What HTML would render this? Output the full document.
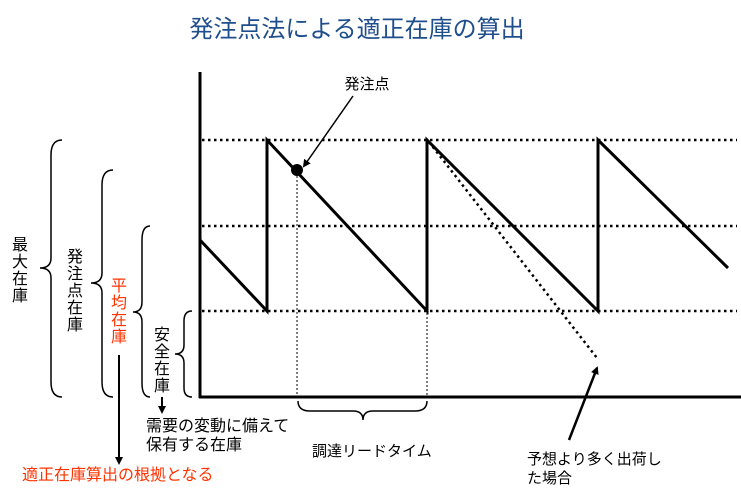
<!DOCTYPE html>
<html><head><meta charset="utf-8"><style>
html,body{margin:0;padding:0;background:#fff;}
svg{display:block;}
text{font-family:"Liberation Sans","Noto Sans CJK JP",sans-serif;}
</style></head><body>
<svg width="741" height="497" viewBox="0 0 741 497" xmlns="http://www.w3.org/2000/svg">
<defs>
<marker id="ah" markerWidth="8" markerHeight="8" refX="6" refY="4" orient="auto" markerUnits="userSpaceOnUse"><path d="M0,0 L8,4 L0,8 z" fill="#000"/></marker>
</defs>
<text x="357" y="37" font-size="24" fill="#1f4e8c" text-anchor="middle">発注点法による適正在庫の算出</text>
<line x1="200" y1="72" x2="200" y2="398" stroke="#000" stroke-width="3"/>
<line x1="199" y1="397" x2="741" y2="397" stroke="#000" stroke-width="3"/>
<g stroke="#000" stroke-width="2.5" stroke-dasharray="2.5,3.5">
<line x1="202" y1="140" x2="737" y2="140"/>
<line x1="202" y1="226" x2="737" y2="226"/>
<line x1="202" y1="311" x2="737" y2="311"/>
<line x1="429" y1="142" x2="597" y2="358"/>
</g>
<g stroke="#000" stroke-width="1" stroke-dasharray="2,2">
<line x1="297" y1="172" x2="297" y2="396"/>
<line x1="427" y1="313" x2="427" y2="396"/>
</g>
<polyline points="200,240 267,311 267,140 427,311 427,140 598,311 598,140 728,268" fill="none" stroke="#000" stroke-width="3"/>
<circle cx="297" cy="170" r="6" fill="#000"/>
<line x1="353" y1="96" x2="304" y2="166" stroke="#000" stroke-width="1.5" marker-end="url(#ah)"/>
<line x1="569" y1="440" x2="597" y2="368" stroke="#000" stroke-width="2.5" marker-end="url(#ah)"/>
<line x1="119" y1="355" x2="119" y2="463" stroke="#000" stroke-width="2" marker-end="url(#ah)"/>
<line x1="162" y1="397" x2="162" y2="412" stroke="#000" stroke-width="2" marker-end="url(#ah)"/>
<g fill="none" stroke="#000" stroke-width="1.5">
<path d="M62,140 Q51,140 51,155 L51,258 Q51,268 40,268 Q51,268 51,278 L51,382 Q51,397 62,397"/>
<path d="M113,170 Q102,170 102,185 L102,273 Q102,283 91,283 Q102,283 102,293 L102,382 Q102,397 113,397"/>
<path d="M150,226 Q142,226 142,240 L142,302 Q142,312 133,312 Q142,312 142,322 L142,383 Q142,397 150,397"/>
<path d="M192,311 Q184,311 184,321 L184,345 Q184,354 175,354 Q184,354 184,363 L184,388 Q184,397 192,397"/>
<path d="M298,401 Q298,411 310,411 L353,411 Q363,411 363,420 Q363,411 373,411 L415,411 Q427,411 427,401"/>
</g>
<text x="367" y="89" font-size="15" text-anchor="middle">発注点</text>
<g font-size="16" text-anchor="middle">
<text x="20" y="250">最</text><text x="20" y="267">大</text><text x="20" y="284">在</text><text x="20" y="301">庫</text>
<text x="75" y="262">発</text><text x="75" y="279">注</text><text x="75" y="296">点</text><text x="75" y="313">在</text><text x="75" y="330">庫</text>
<g fill="#ff3300"><text x="119" y="291">平</text><text x="119" y="308">均</text><text x="119" y="325">在</text><text x="119" y="342">庫</text></g>
<text x="162" y="340">安</text><text x="162" y="357">全</text><text x="162" y="374">在</text><text x="162" y="391">庫</text>
</g>
<text x="146" y="431" font-size="16">需要の変動に備えて</text>
<text x="146" y="450" font-size="16">保有する在庫</text>
<text x="22" y="480" font-size="16" fill="#ff3300">適正在庫算出の根拠となる</text>
<text x="312" y="456" font-size="15">調達リードタイム</text>
<text x="527" y="464" font-size="15">予想より多く出荷し</text>
<text x="527" y="483" font-size="15">た場合</text>
</svg>
</body></html>
